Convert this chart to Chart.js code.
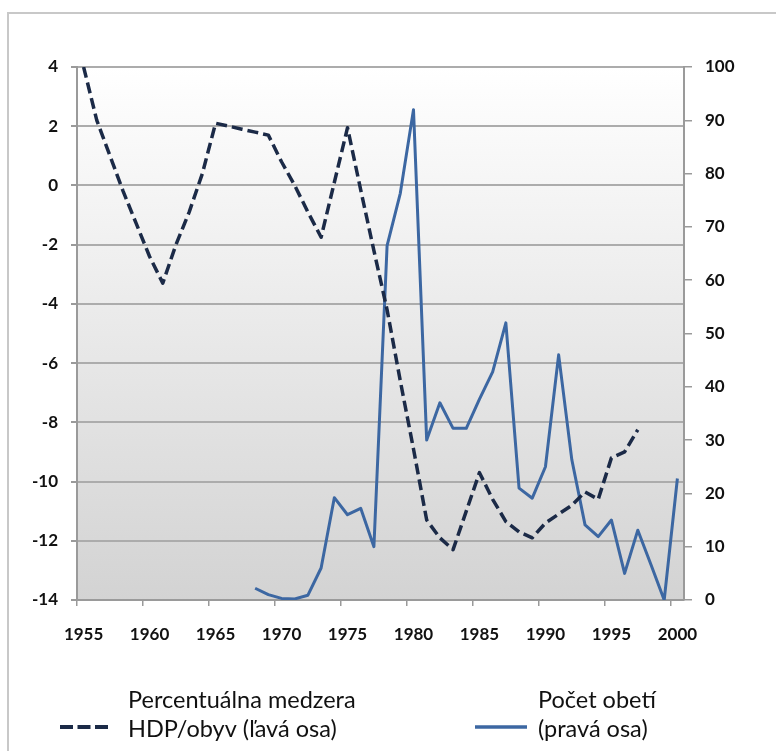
<!DOCTYPE html>
<html>
<head>
<meta charset="utf-8">
<script src="https://cdn.jsdelivr.net/npm/chart.js@4"></script>
<style>
  html, body { margin: 0; padding: 0; background: #fff; }
  canvas { display: block; }
</style>
</head>
<body>
<canvas id="chart" width="776" height="751"></canvas>
<script>
// roky na osi x
const years = [1955, 1956, 1957, 1958, 1959, 1960, 1961, 1962, 1963, 1964,
               1965, 1966, 1967, 1968, 1969, 1970, 1971, 1972, 1973, 1974,
               1975, 1976, 1977, 1978, 1979, 1980, 1981, 1982, 1983, 1984,
               1985, 1986, 1987, 1988, 1989, 1990, 1991, 1992, 1993, 1994,
               1995, 1996, 1997, 1998, 1999, 2000];

// percentuálna medzera HDP/obyv, 1955 - 1997 (ľavá os)
const gapStart = 1955;
const gapValues = [4.0, 2.2, 1.0, -0.2, -1.3, -2.4, -3.3, -2.0, -0.9, 0.4,
                   2.1, 2.0, 1.9, 1.8, 1.7, 0.8, 0.0, -0.9, -1.75, 0.1,
                   1.95, -0.15, -2.2, -4.2, -6.6, -8.9, -11.3, -11.9, -12.3, -11.0,
                   -9.7, -10.6, -11.35, -11.7, -11.9, -11.4, -11.1, -10.8, -10.35, -10.6,
                   -9.2, -9.0, -8.25];

// počet obetí, 1968 - 2000 (pravá os)
const victimsStart = 1968;
const victimsValues = [2.2, 1.0, 0.3, 0.2, 0.9, 6, 19.2, 16, 17.2, 10,
                       66.5, 76.3, 92, 30, 37, 32.2, 32.2, 37.7, 42.8, 52,
                       21, 19.1, 25, 46, 26.3, 14.1, 11.9, 15, 5, 13.1,
                       6.6, 0, 22.8];

const leftTicks = { min: -14, max: 4, step: 2 };
const rightTicks = { min: 0, max: 100, step: 10 };

const gapLegend = ['Percentuálna medzera', 'HDP/obyv (ľavá osa)'];
const victimsLegend = ['Počet obetí', '(pravá osa)'];

const navy = '#1b2a47';
const blue = '#3c67a2';
const gridGray = '#acacac';
const axisGray = '#9a9a9a';

function alignToYears(start, values) {
    return years.map(y => {
        const i = y - start;
        return i >= 0 && i < values.length ? values[i] : null;
    });
}

const tickFont = { family: 'Lato', size: 17, weight: 'bold' };

const framePlugin = {
    id: 'frame',
    beforeDraw(chart) {
        const { ctx, chartArea: a } = chart;
        ctx.save();
        ctx.fillStyle = '#ffffff';
        ctx.fillRect(0, 0, chart.width, chart.height);
        ctx.strokeStyle = '#c8c8c8';
        ctx.lineWidth = 2;
        ctx.beginPath();
        ctx.moveTo(8, chart.height);
        ctx.lineTo(8, 13);
        ctx.lineTo(chart.width, 13);
        ctx.stroke();
        const g = ctx.createLinearGradient(0, a.top, 0, a.bottom);
        g.addColorStop(0, '#ffffff');
        g.addColorStop(1, '#d3d3d3');
        ctx.fillStyle = g;
        ctx.fillRect(a.left, a.top, a.right - a.left, a.bottom - a.top);
        ctx.restore();
    },
    afterDraw(chart) {
        // legenda dole, dva riadky textu
        const ctx = chart.ctx;
        ctx.save();
        ctx.font = '23.5px Lato';
        ctx.fillStyle = '#111111';
        ctx.textBaseline = 'alphabetic';

        ctx.strokeStyle = navy;
        ctx.lineWidth = 4;
        ctx.setLineDash([13, 4.5]);
        ctx.beginPath();
        ctx.moveTo(60, 727);
        ctx.lineTo(108, 727);
        ctx.stroke();
        ctx.fillText(gapLegend[0], 128, 708);
        ctx.fillText(gapLegend[1], 128, 737);

        ctx.strokeStyle = blue;
        ctx.lineWidth = 3.5;
        ctx.setLineDash([]);
        ctx.beginPath();
        ctx.moveTo(475, 727);
        ctx.lineTo(527, 727);
        ctx.stroke();
        ctx.fillText(victimsLegend[0], 538, 708);
        ctx.fillText(victimsLegend[1], 538, 737);
        ctx.restore();
    }
};

const ctx = document.getElementById('chart').getContext('2d');

new Chart(ctx, {
    type: 'line',
    data: {
        labels: years,
        datasets: [{
            label: gapLegend.join(' '),
            data: alignToYears(gapStart, gapValues),
            yAxisID: 'yLeft',
            borderColor: navy,
            borderWidth: 3.5,
            borderDash: [11, 5],
            borderJoinStyle: 'round',
            pointRadius: 0,
            tension: 0,
            spanGaps: false
        }, {
            label: victimsLegend.join(' '),
            data: alignToYears(victimsStart, victimsValues),
            yAxisID: 'yRight',
            borderColor: blue,
            borderWidth: 3,
            borderJoinStyle: 'round',
            pointRadius: 0,
            tension: 0,
            spanGaps: false
        }]
    },
    options: {
        responsive: false,
        animation: false,
        layout: { padding: { top: 67, left: 0, right: 0, bottom: 107 } },
        plugins: {
            legend: { display: false },
            tooltip: { enabled: false }
        },
        scales: {
            x: {
                type: 'category',
                offset: true,
                grid: {
                    offset: true,
                    drawOnChartArea: false,
                    tickLength: 6,
                    lineWidth: 1.5,
                    color: c => c.index % 5 === 0 ? axisGray : 'rgba(0,0,0,0)'
                },
                border: { color: axisGray, width: 2 },
                ticks: {
                    autoSkip: false,
                    maxRotation: 0,
                    padding: 18,
                    color: '#111111',
                    font: tickFont,
                    callback: (v, i) => i % 5 === 0 ? String(years[i]) : ''
                },
                afterFit: s => { s.height = 44; }
            },
            yLeft: {
                position: 'left',
                min: leftTicks.min,
                max: leftTicks.max,
                grid: {
                    color: gridGray,
                    lineWidth: 2,
                    tickLength: 6,
                    tickColor: axisGray
                },
                border: { color: axisGray, width: 2 },
                ticks: {
                    stepSize: leftTicks.step,
                    padding: 13,
                    color: '#111111',
                    font: tickFont
                },
                afterFit: s => { s.width = 77; }
            },
            yRight: {
                position: 'right',
                min: rightTicks.min,
                max: rightTicks.max,
                grid: {
                    drawOnChartArea: false,
                    tickLength: 8,
                    lineWidth: 1.5,
                    color: axisGray
                },
                border: { color: axisGray, width: 2 },
                ticks: {
                    stepSize: rightTicks.step,
                    padding: 13,
                    color: '#111111',
                    font: tickFont
                },
                afterFit: s => { s.width = 92; }
            }
        }
    },
    plugins: [framePlugin]
});
</script>
</body>
</html>
